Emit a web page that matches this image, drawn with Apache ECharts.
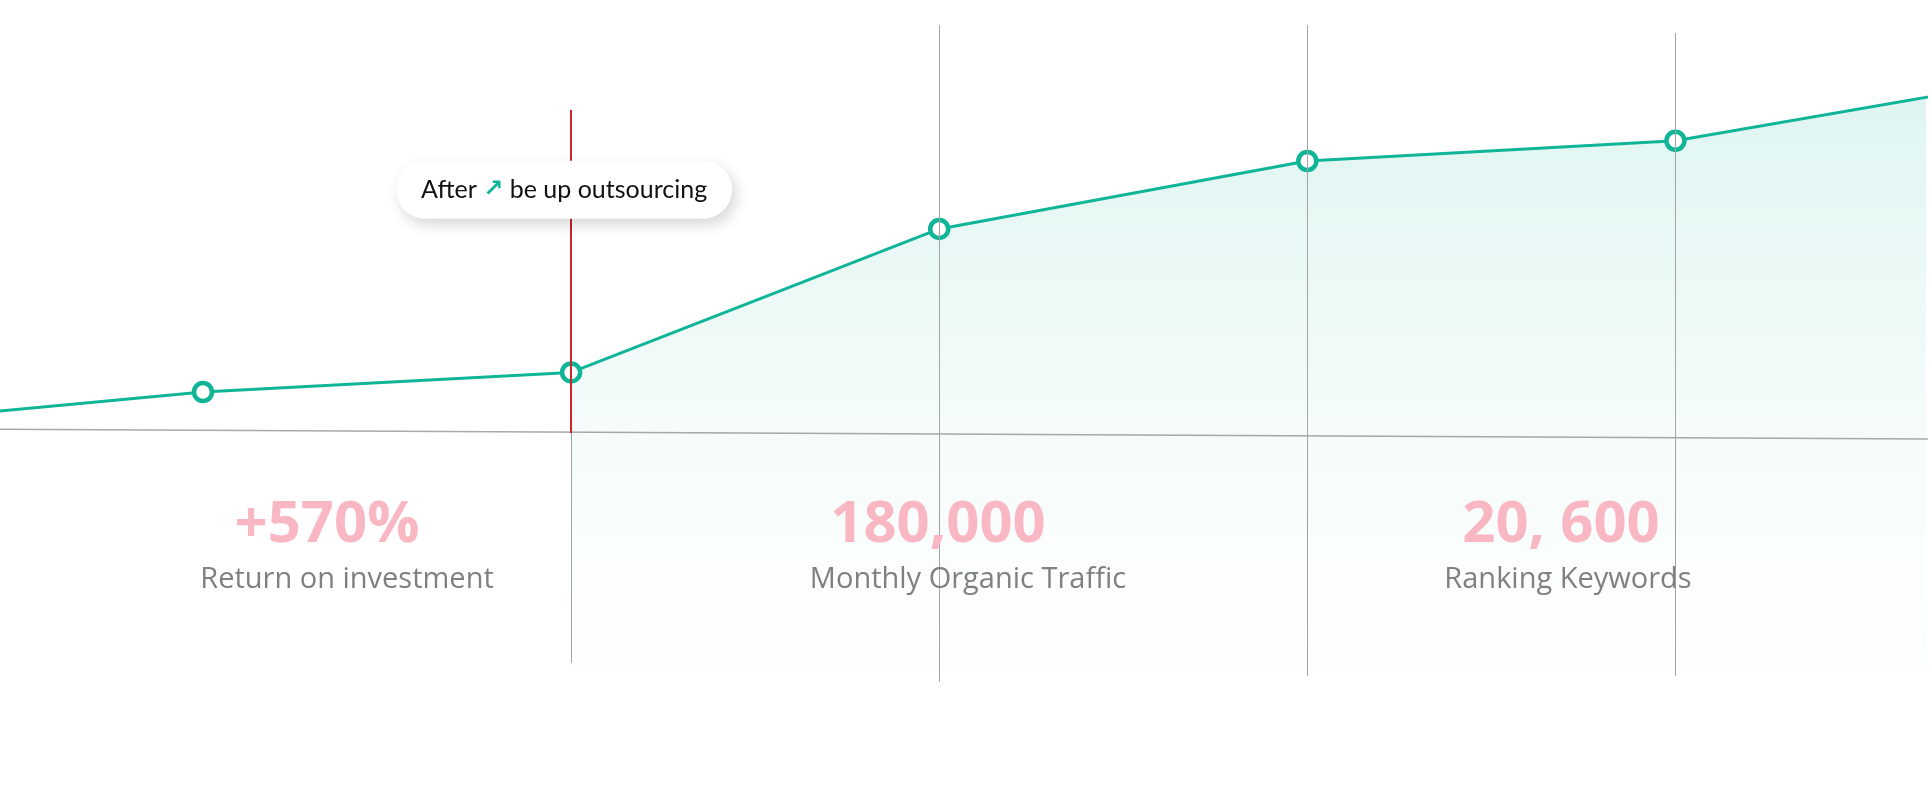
<!DOCTYPE html>
<html><head><meta charset="utf-8">
<script src="https://cdn.jsdelivr.net/npm/echarts@6/dist/echarts.min.js"></script>
<style>html,body{margin:0;padding:0;background:#fff;}#chart{width:1932px;height:790px;}</style>
</head><body><div id="chart"></div>
<script>
// ---- data ----
const pointIndex = [0, 1, 2, 3, 4, 5, 6];
const growthValues = [39.1, 44.0, 46.8, 67.3, 77.0, 79.9, 89.0];
const areaStartIndex = 2;
const baselineIndex = [0, 6];
const baselineValues = [38.8, 37.2];
const guideIndex = [2, 3, 4, 5];
const guideTop = [84.3, 96.4, 96.4, 95.3];
const guideSplit = 38.1;
const guideBottom = [5.3, 2.6, 3.4, 3.4];
const statValues = ['+570%', '180,000', '20, 600'];
const statLabels = ['Return on investment', 'Monthly Organic Traffic', 'Ranking Keywords'];
const calloutText = ['After', '↗', 'be up outsourcing'];
const calloutAt = [2, 72.9];

const TEAL = '#10b598';
const chart = echarts.init(document.getElementById('chart'), null, {renderer: 'canvas'});

const lineData = pointIndex.map((x, i) => {
  const edge = (i === 0 || i === pointIndex.length - 1);
  return edge ? {value: [x, growthValues[i]], symbol: 'none'} : {value: [x, growthValues[i]]};
});
const areaData = pointIndex.map((x, i) => [x, growthValues[i]]).filter(d => d[0] >= areaStartIndex);

const guideLines = [];
guideIndex.forEach((x, i) => {
  if (i === 0) {
    guideLines.push([{coord: [x, guideTop[i]], lineStyle: {color: '#c8262e', width: 2}}, {coord: [x, guideSplit]}]);
    guideLines.push([{coord: [x, guideSplit], lineStyle: {color: '#a3a3a3', width: 1}}, {coord: [x, guideBottom[i]]}]);
  } else {
    guideLines.push([{coord: [x, guideTop[i]], lineStyle: {color: '#a3a3a3', width: 1}}, {coord: [x, guideBottom[i]]}]);
  }
});

const statX = [327, 938, 1561];
const labelX = [347, 968, 1568];
const graphics = [];
statValues.forEach((t, i) => {
  graphics.push({type: 'text', x: statX[i], y: 525, z: 10, style: {
    text: t, fill: '#f9b7c3', font: 'bold 58px "Open Sans"', textAlign: 'center', textVerticalAlign: 'middle'}});
  graphics.push({type: 'text', x: labelX[i], y: 580, z: 10, style: {
    text: statLabels[i], fill: '#808080', font: '29px "Open Sans"', textAlign: 'center', textVerticalAlign: 'middle'}});
});

chart.setOption({
  animation: false,
  backgroundColor: '#ffffff',
  grid: {left: 0, right: 6, top: 0, bottom: 90},
  xAxis: {type: 'value', min: 0.4485, max: 5.6808, show: false},
  yAxis: {type: 'value', min: 0, max: 100, show: false},
  series: [
    {
      name: 'baseline', type: 'line', clip: false, z: 1, silent: true,
      data: baselineIndex.map((x, i) => [x, baselineValues[i]]),
      symbol: 'none', lineStyle: {color: '#a9a9a9', width: 1.5}
    },
    {
      name: 'guides', type: 'line', data: [], z: 1, silent: true,
      markLine: {silent: true, symbol: ['none', 'none'], label: {show: false}, animation: false,
        lineStyle: {type: 'solid'}, data: guideLines}
    },
    {
      name: 'area', type: 'line', z: 2, silent: true, data: areaData, symbol: 'none',
      lineStyle: {width: 0},
      areaStyle: {origin: 'start', color: new echarts.graphic.LinearGradient(0, 0, 0, 1, [
        {offset: 0, color: 'rgba(16,181,152,0.20)'},
        {offset: 0.58, color: 'rgba(16,181,152,0.055)'},
        {offset: 1, color: 'rgba(16,181,152,0.005)'}
      ])}
    },
    {
      name: 'growth', type: 'line', z: 3, data: lineData,
      symbol: 'circle', symbolSize: 18,
      lineStyle: {color: TEAL, width: 3},
      itemStyle: {color: '#ffffff', borderColor: TEAL, borderWidth: 4.5},
      markPoint: {
        silent: true, symbol: 'circle', symbolSize: 1, itemStyle: {color: 'rgba(0,0,0,0)'},
        data: [{coord: calloutAt}],
        label: {
          show: true, position: 'inside', offset: [-7, 0],
          formatter: '{a|' + calloutText[0] + ' }{b|' + calloutText[1] + '}{a| ' + calloutText[2] + '}',
          backgroundColor: '#ffffff', borderRadius: 29, padding: [0, 25], height: 58,
          shadowColor: 'rgba(0,0,0,0.16)', shadowBlur: 14, shadowOffsetX: 4, shadowOffsetY: 6,
          rich: {
            a: {fontFamily: 'Lato', fontSize: 25, color: '#111111', lineHeight: 58},
            b: {fontFamily: 'DejaVu Sans', fontWeight: 'bold', fontSize: 24, color: TEAL, lineHeight: 58}
          }
        }
      }
    }
  ],
  graphic: graphics
});
</script></body></html>
